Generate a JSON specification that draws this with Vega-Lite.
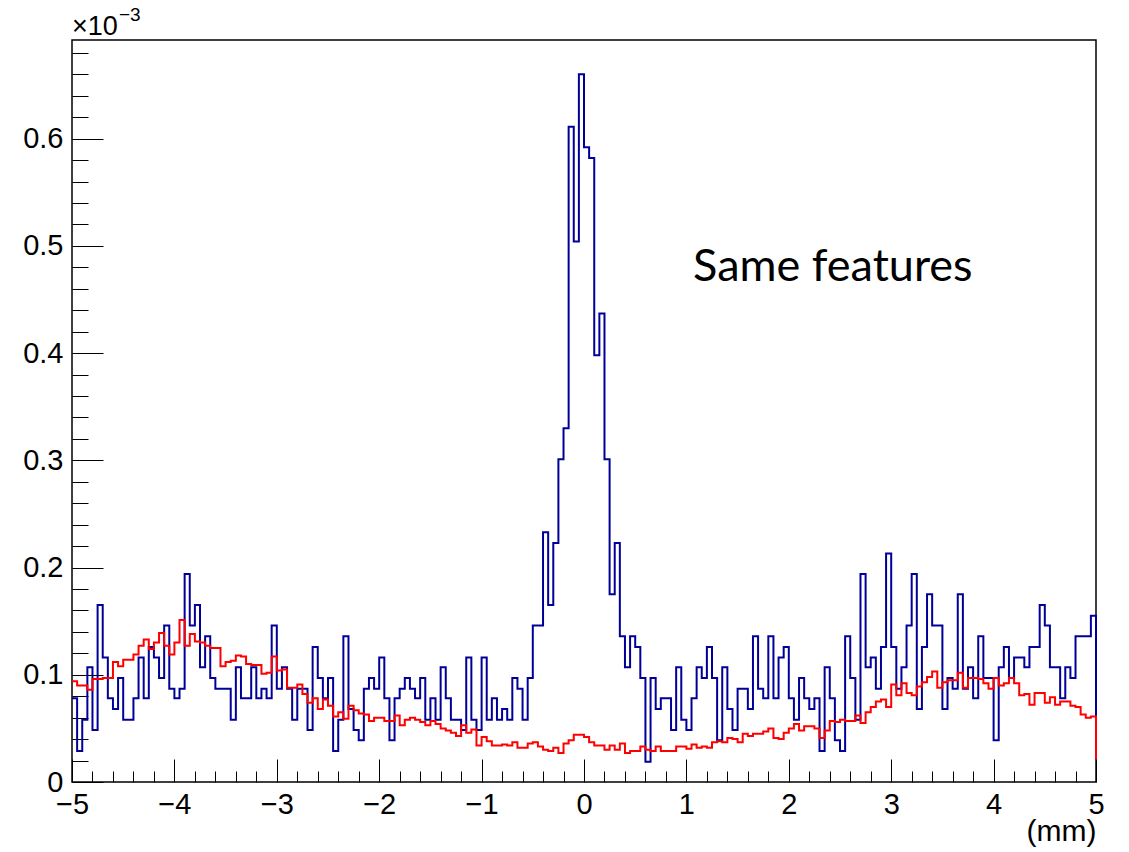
{
  "$schema": "https://vega.github.io/schema/vega-lite/v6.json",
  "width": 1024,
  "height": 742,
  "autosize": {"type": "none"},
  "padding": {"left": 72, "top": 40, "right": 33, "bottom": 70},
  "background": "white",
  "config": {
    "view": {"stroke": "#000", "strokeWidth": 1.5},
    "axis": {"tickColor": "#000", "tickWidth": 1, "domain": false, "grid": false}
  },
  "datasets": {
    "blue": [
      {"x":-5,"v":0.078},{"x":-4.95,"v":0.029},{"x":-4.9,"v":0.058},{"x":-4.85,"v":0.107},{"x":-4.8,"v":0.0485},
      {"x":-4.75,"v":0.165},{"x":-4.7,"v":0.116},{"x":-4.65,"v":0.078},{"x":-4.6,"v":0.068},{"x":-4.55,"v":0.097},
      {"x":-4.5,"v":0.058},{"x":-4.45,"v":0.058},{"x":-4.4,"v":0.078},{"x":-4.35,"v":0.116},{"x":-4.3,"v":0.078},
      {"x":-4.25,"v":0.126},{"x":-4.2,"v":0.116},{"x":-4.15,"v":0.097},{"x":-4.1,"v":0.146},{"x":-4.05,"v":0.087},
      {"x":-4,"v":0.078},{"x":-3.95,"v":0.087},{"x":-3.9,"v":0.194},{"x":-3.85,"v":0.146},{"x":-3.8,"v":0.165},
      {"x":-3.75,"v":0.107},{"x":-3.7,"v":0.136},{"x":-3.65,"v":0.097},{"x":-3.6,"v":0.087},{"x":-3.55,"v":0.087},
      {"x":-3.5,"v":0.087},{"x":-3.45,"v":0.058},{"x":-3.4,"v":0.107},{"x":-3.35,"v":0.078},{"x":-3.3,"v":0.078},
      {"x":-3.25,"v":0.107},{"x":-3.2,"v":0.078},{"x":-3.15,"v":0.087},{"x":-3.1,"v":0.078},{"x":-3.05,"v":0.146},
      {"x":-3,"v":0.087},{"x":-2.95,"v":0.107},{"x":-2.9,"v":0.087},{"x":-2.85,"v":0.058},{"x":-2.8,"v":0.087},
      {"x":-2.75,"v":0.087},{"x":-2.7,"v":0.0485},{"x":-2.65,"v":0.126},{"x":-2.6,"v":0.097},{"x":-2.55,"v":0.078},
      {"x":-2.5,"v":0.097},{"x":-2.45,"v":0.029},{"x":-2.4,"v":0.058},{"x":-2.35,"v":0.136},{"x":-2.3,"v":0.068},
      {"x":-2.25,"v":0.0485},{"x":-2.2,"v":0.039},{"x":-2.15,"v":0.087},{"x":-2.1,"v":0.097},{"x":-2.05,"v":0.087},
      {"x":-2,"v":0.116},{"x":-1.95,"v":0.078},{"x":-1.9,"v":0.039},{"x":-1.85,"v":0.078},{"x":-1.8,"v":0.087},
      {"x":-1.75,"v":0.097},{"x":-1.7,"v":0.087},{"x":-1.65,"v":0.078},{"x":-1.6,"v":0.097},{"x":-1.55,"v":0.058},
      {"x":-1.5,"v":0.078},{"x":-1.45,"v":0.058},{"x":-1.4,"v":0.107},{"x":-1.35,"v":0.078},{"x":-1.3,"v":0.058},
      {"x":-1.25,"v":0.058},{"x":-1.2,"v":0.0485},{"x":-1.15,"v":0.116},{"x":-1.1,"v":0.058},{"x":-1.05,"v":0.0485},
      {"x":-1,"v":0.116},{"x":-0.95,"v":0.058},{"x":-0.9,"v":0.078},{"x":-0.85,"v":0.058},{"x":-0.8,"v":0.068},
      {"x":-0.75,"v":0.058},{"x":-0.7,"v":0.097},{"x":-0.65,"v":0.087},{"x":-0.6,"v":0.058},{"x":-0.55,"v":0.097},
      {"x":-0.5,"v":0.146},{"x":-0.45,"v":0.146},{"x":-0.4,"v":0.233},{"x":-0.35,"v":0.165},{"x":-0.3,"v":0.223},
      {"x":-0.25,"v":0.301},{"x":-0.2,"v":0.330},{"x":-0.15,"v":0.611},{"x":-0.1,"v":0.504},{"x":-0.05,"v":0.660},
      {"x":0,"v":0.592},{"x":0.05,"v":0.582},{"x":0.1,"v":0.398},{"x":0.15,"v":0.437},{"x":0.2,"v":0.301},
      {"x":0.25,"v":0.175},{"x":0.3,"v":0.223},{"x":0.35,"v":0.136},{"x":0.4,"v":0.107},{"x":0.45,"v":0.136},
      {"x":0.5,"v":0.126},{"x":0.55,"v":0.097},{"x":0.6,"v":0.019},{"x":0.65,"v":0.097},{"x":0.7,"v":0.068},
      {"x":0.75,"v":0.078},{"x":0.8,"v":0.078},{"x":0.85,"v":0.0485},{"x":0.9,"v":0.107},{"x":0.95,"v":0.058},
      {"x":1,"v":0.0485},{"x":1.05,"v":0.078},{"x":1.1,"v":0.107},{"x":1.15,"v":0.097},{"x":1.2,"v":0.126},
      {"x":1.25,"v":0.097},{"x":1.3,"v":0.039},{"x":1.35,"v":0.107},{"x":1.4,"v":0.068},{"x":1.45,"v":0.0485},
      {"x":1.5,"v":0.087},{"x":1.55,"v":0.087},{"x":1.6,"v":0.068},{"x":1.65,"v":0.136},{"x":1.7,"v":0.087},
      {"x":1.75,"v":0.078},{"x":1.8,"v":0.136},{"x":1.85,"v":0.078},{"x":1.9,"v":0.116},{"x":1.95,"v":0.126},
      {"x":2,"v":0.078},{"x":2.05,"v":0.058},{"x":2.1,"v":0.097},{"x":2.15,"v":0.078},{"x":2.2,"v":0.068},
      {"x":2.25,"v":0.078},{"x":2.3,"v":0.029},{"x":2.35,"v":0.107},{"x":2.4,"v":0.078},{"x":2.45,"v":0.039},
      {"x":2.5,"v":0.029},{"x":2.55,"v":0.136},{"x":2.6,"v":0.097},{"x":2.65,"v":0.058},{"x":2.7,"v":0.194},
      {"x":2.75,"v":0.107},{"x":2.8,"v":0.116},{"x":2.85,"v":0.087},{"x":2.9,"v":0.126},{"x":2.95,"v":0.213},
      {"x":3,"v":0.126},{"x":3.05,"v":0.087},{"x":3.1,"v":0.107},{"x":3.15,"v":0.146},{"x":3.2,"v":0.194},
      {"x":3.25,"v":0.068},{"x":3.3,"v":0.126},{"x":3.35,"v":0.175},{"x":3.4,"v":0.146},{"x":3.45,"v":0.146},
      {"x":3.5,"v":0.068},{"x":3.55,"v":0.097},{"x":3.6,"v":0.087},{"x":3.65,"v":0.175},{"x":3.7,"v":0.087},
      {"x":3.75,"v":0.107},{"x":3.8,"v":0.078},{"x":3.85,"v":0.136},{"x":3.9,"v":0.097},{"x":3.95,"v":0.097},
      {"x":4,"v":0.039},{"x":4.05,"v":0.107},{"x":4.1,"v":0.126},{"x":4.15,"v":0.097},{"x":4.2,"v":0.116},
      {"x":4.25,"v":0.116},{"x":4.3,"v":0.107},{"x":4.35,"v":0.126},{"x":4.4,"v":0.126},{"x":4.45,"v":0.165},
      {"x":4.5,"v":0.146},{"x":4.55,"v":0.107},{"x":4.6,"v":0.107},{"x":4.65,"v":0.078},{"x":4.7,"v":0.107},
      {"x":4.75,"v":0.097},{"x":4.8,"v":0.136},{"x":4.85,"v":0.136},{"x":4.9,"v":0.136},{"x":4.95,"v":0.155},
      {"x":5,"v":0.155},{"x":5,"v":0.021}
    ],
    "red": [
      {"x":-5,"v":0.094},{"x":-4.95,"v":0.090},{"x":-4.9,"v":0.090},{"x":-4.85,"v":0.086},{"x":-4.8,"v":0.096},
      {"x":-4.75,"v":0.096},{"x":-4.7,"v":0.097},{"x":-4.65,"v":0.097},{"x":-4.6,"v":0.112},{"x":-4.55,"v":0.108},
      {"x":-4.5,"v":0.114},{"x":-4.45,"v":0.114},{"x":-4.4,"v":0.119},{"x":-4.35,"v":0.127},{"x":-4.3,"v":0.133},
      {"x":-4.25,"v":0.124},{"x":-4.2,"v":0.130},{"x":-4.15,"v":0.139},{"x":-4.1,"v":0.127},{"x":-4.05,"v":0.119},
      {"x":-4,"v":0.130},{"x":-3.95,"v":0.151},{"x":-3.9,"v":0.127},{"x":-3.85,"v":0.138},{"x":-3.8,"v":0.131},
      {"x":-3.75,"v":0.130},{"x":-3.7,"v":0.127},{"x":-3.65,"v":0.125},{"x":-3.6,"v":0.125},{"x":-3.55,"v":0.108},
      {"x":-3.5,"v":0.112},{"x":-3.45,"v":0.113},{"x":-3.4,"v":0.118},{"x":-3.35,"v":0.117},{"x":-3.3,"v":0.110},
      {"x":-3.25,"v":0.109},{"x":-3.2,"v":0.109},{"x":-3.15,"v":0.101},{"x":-3.1,"v":0.102},{"x":-3.05,"v":0.117},
      {"x":-3,"v":0.104},{"x":-2.95,"v":0.105},{"x":-2.9,"v":0.088},{"x":-2.85,"v":0.088},{"x":-2.8,"v":0.091},
      {"x":-2.75,"v":0.082},{"x":-2.7,"v":0.074},{"x":-2.65,"v":0.078},{"x":-2.6,"v":0.068},{"x":-2.55,"v":0.077},
      {"x":-2.5,"v":0.071},{"x":-2.45,"v":0.061},{"x":-2.4,"v":0.065},{"x":-2.35,"v":0.059},{"x":-2.3,"v":0.071},
      {"x":-2.25,"v":0.067},{"x":-2.2,"v":0.064},{"x":-2.15,"v":0.063},{"x":-2.1,"v":0.057},{"x":-2.05,"v":0.060},
      {"x":-2,"v":0.060},{"x":-1.95,"v":0.057},{"x":-1.9,"v":0.057},{"x":-1.85,"v":0.062},{"x":-1.8,"v":0.053},
      {"x":-1.75,"v":0.058},{"x":-1.7,"v":0.060},{"x":-1.65,"v":0.058},{"x":-1.6,"v":0.056},{"x":-1.55,"v":0.053},
      {"x":-1.5,"v":0.057},{"x":-1.45,"v":0.054},{"x":-1.4,"v":0.050},{"x":-1.35,"v":0.048},{"x":-1.3,"v":0.046},
      {"x":-1.25,"v":0.043},{"x":-1.2,"v":0.053},{"x":-1.15,"v":0.046},{"x":-1.1,"v":0.049},{"x":-1.05,"v":0.034},
      {"x":-1,"v":0.042},{"x":-0.95,"v":0.038},{"x":-0.9,"v":0.034},{"x":-0.85,"v":0.034},{"x":-0.8,"v":0.035},
      {"x":-0.75,"v":0.034},{"x":-0.7,"v":0.037},{"x":-0.65,"v":0.032},{"x":-0.6,"v":0.032},{"x":-0.55,"v":0.036},
      {"x":-0.5,"v":0.037},{"x":-0.45,"v":0.033},{"x":-0.4,"v":0.030},{"x":-0.35,"v":0.029},{"x":-0.3,"v":0.032},
      {"x":-0.25,"v":0.027},{"x":-0.2,"v":0.036},{"x":-0.15,"v":0.039},{"x":-0.1,"v":0.044},{"x":-0.05,"v":0.044},
      {"x":0,"v":0.042},{"x":0.05,"v":0.037},{"x":0.1,"v":0.034},{"x":0.15,"v":0.034},{"x":0.2,"v":0.030},
      {"x":0.25,"v":0.034},{"x":0.3,"v":0.030},{"x":0.35,"v":0.036},{"x":0.4,"v":0.027},{"x":0.45,"v":0.029},
      {"x":0.5,"v":0.029},{"x":0.55,"v":0.033},{"x":0.6,"v":0.030},{"x":0.65,"v":0.029},{"x":0.7,"v":0.033},
      {"x":0.75,"v":0.029},{"x":0.8,"v":0.029},{"x":0.85,"v":0.029},{"x":0.9,"v":0.033},{"x":0.95,"v":0.033},
      {"x":1,"v":0.031},{"x":1.05,"v":0.035},{"x":1.1,"v":0.032},{"x":1.15,"v":0.033},{"x":1.2,"v":0.032},
      {"x":1.25,"v":0.037},{"x":1.3,"v":0.038},{"x":1.35,"v":0.037},{"x":1.4,"v":0.041},{"x":1.45,"v":0.040},
      {"x":1.5,"v":0.037},{"x":1.55,"v":0.045},{"x":1.6,"v":0.043},{"x":1.65,"v":0.045},{"x":1.7,"v":0.045},
      {"x":1.75,"v":0.047},{"x":1.8,"v":0.050},{"x":1.85,"v":0.041},{"x":1.9,"v":0.040},{"x":1.95,"v":0.046},
      {"x":2,"v":0.050},{"x":2.05,"v":0.054},{"x":2.1,"v":0.048},{"x":2.15,"v":0.052},{"x":2.2,"v":0.052},
      {"x":2.25,"v":0.050},{"x":2.3,"v":0.041},{"x":2.35,"v":0.048},{"x":2.4,"v":0.057},{"x":2.45,"v":0.056},
      {"x":2.5,"v":0.058},{"x":2.55,"v":0.057},{"x":2.6,"v":0.057},{"x":2.65,"v":0.062},{"x":2.7,"v":0.055},
      {"x":2.75,"v":0.065},{"x":2.8,"v":0.070},{"x":2.85,"v":0.075},{"x":2.9,"v":0.077},{"x":2.95,"v":0.070},
      {"x":3,"v":0.091},{"x":3.05,"v":0.081},{"x":3.1,"v":0.092},{"x":3.15,"v":0.083},{"x":3.2,"v":0.081},
      {"x":3.25,"v":0.089},{"x":3.3,"v":0.093},{"x":3.35,"v":0.098},{"x":3.4,"v":0.103},{"x":3.45,"v":0.088},
      {"x":3.5,"v":0.093},{"x":3.55,"v":0.095},{"x":3.6,"v":0.095},{"x":3.65,"v":0.102},{"x":3.7,"v":0.088},
      {"x":3.75,"v":0.097},{"x":3.8,"v":0.097},{"x":3.85,"v":0.096},{"x":3.9,"v":0.092},{"x":3.95,"v":0.087},
      {"x":4,"v":0.097},{"x":4.05,"v":0.090},{"x":4.1,"v":0.092},{"x":4.15,"v":0.097},{"x":4.2,"v":0.092},
      {"x":4.25,"v":0.081},{"x":4.3,"v":0.082},{"x":4.35,"v":0.072},{"x":4.4,"v":0.083},{"x":4.45,"v":0.083},
      {"x":4.5,"v":0.074},{"x":4.55,"v":0.079},{"x":4.6,"v":0.072},{"x":4.65,"v":0.075},{"x":4.7,"v":0.075},
      {"x":4.75,"v":0.071},{"x":4.8,"v":0.070},{"x":4.85,"v":0.063},{"x":4.9,"v":0.060},{"x":4.95,"v":0.061},
      {"x":5,"v":0.061},{"x":5,"v":0.021}
    ]
  },
  "layer": [
    {
      "data": {"name": "blue"},
      "mark": {"type": "line", "interpolate": "step-after", "color": "#000099", "strokeWidth": 2, "strokeJoin": "miter"},
      "encoding": {
        "x": {
          "field": "x", "type": "quantitative",
          "scale": {"domain": [-5, 5], "nice": false, "zero": false},
          "axis": {
            "orient": "bottom", "values": [-5, -4, -3, -2, -1, 0, 1, 2, 3, 4, 5], "format": "d",
            "tickSize": -23, "labelPadding": 31, "labelFont": "Liberation Sans", "labelFontSize": 29,
            "labelColor": "#000", "labelFlush": false, "labelOverlap": false, "labelDx": 3,
            "title": "(mm)", "titleFont": "Liberation Sans", "titleFontSize": 30, "titleFontWeight": "normal",
            "titleColor": "#000", "titleAnchor": "end", "titleAlign": "right", "titleBaseline": "alphabetic",
            "titleX": 1024, "titleY": 58
          }
        },
        "y": {
          "field": "v", "type": "quantitative",
          "scale": {"domain": [0, 0.692], "nice": false},
          "axis": {
            "orient": "left", "values": [0, 0.1, 0.2, 0.3, 0.4, 0.5, 0.6], "format": ".1~f",
            "tickSize": -31, "labelPadding": 40, "labelFont": "Liberation Sans", "labelFontSize": 29,
            "labelColor": "#000", "labelFlush": false, "labelOverlap": false, "labelBaseline": "middle",
            "title": null
          }
        }
      }
    },
    {
      "data": {"name": "red"},
      "mark": {"type": "line", "interpolate": "step-after", "color": "#ff0000", "strokeWidth": 2, "strokeJoin": "miter"},
      "encoding": {
        "x": {
          "field": "x", "type": "quantitative",
          "axis": {
            "orient": "bottom",
            "values": [-4.8,-4.6,-4.4,-4.2,-3.8,-3.6,-3.4,-3.2,-2.8,-2.6,-2.4,-2.2,-1.8,-1.6,-1.4,-1.2,-0.8,-0.6,-0.4,-0.2,0.2,0.4,0.6,0.8,1.2,1.4,1.6,1.8,2.2,2.4,2.6,2.8,3.2,3.4,3.6,3.8,4.2,4.4,4.6,4.8],
            "tickSize": -11, "labels": false, "title": null
          }
        },
        "y": {
          "field": "v", "type": "quantitative",
          "axis": {
            "orient": "left",
            "values": [0.02,0.04,0.06,0.08,0.12,0.14,0.16,0.18,0.22,0.24,0.26,0.28,0.32,0.34,0.36,0.38,0.42,0.44,0.46,0.48,0.52,0.54,0.56,0.58,0.62,0.64,0.66,0.68],
            "tickSize": -16, "labels": false, "title": null
          }
        }
      }
    },
    {
      "data": {"values": [{}]},
      "mark": {"type": "text", "text": "Same features", "font": "Lato", "fontSize": 45, "align": "left", "baseline": "alphabetic", "color": "#000"},
      "encoding": {
        "x": {"datum": 1.065, "type": "quantitative", "axis": null},
        "y": {"datum": 0.467, "type": "quantitative", "axis": null}
      }
    },
    {
      "data": {"values": [{}]},
      "mark": {"type": "text", "text": "×10", "font": "Liberation Sans", "fontSize": 27, "align": "left", "baseline": "alphabetic", "dy": -5, "color": "#000"},
      "encoding": {
        "x": {"datum": -5, "type": "quantitative", "axis": null},
        "y": {"datum": 0.692, "type": "quantitative", "axis": null}
      }
    },
    {
      "data": {"values": [{}]},
      "mark": {"type": "text", "text": "−3", "font": "Liberation Sans", "fontSize": 19, "align": "left", "baseline": "alphabetic", "dx": 47, "dy": -19, "color": "#000"},
      "encoding": {
        "x": {"datum": -5, "type": "quantitative", "axis": null},
        "y": {"datum": 0.692, "type": "quantitative", "axis": null}
      }
    }
  ],
  "resolve": {"axis": {"x": "independent", "y": "independent"}}
}
